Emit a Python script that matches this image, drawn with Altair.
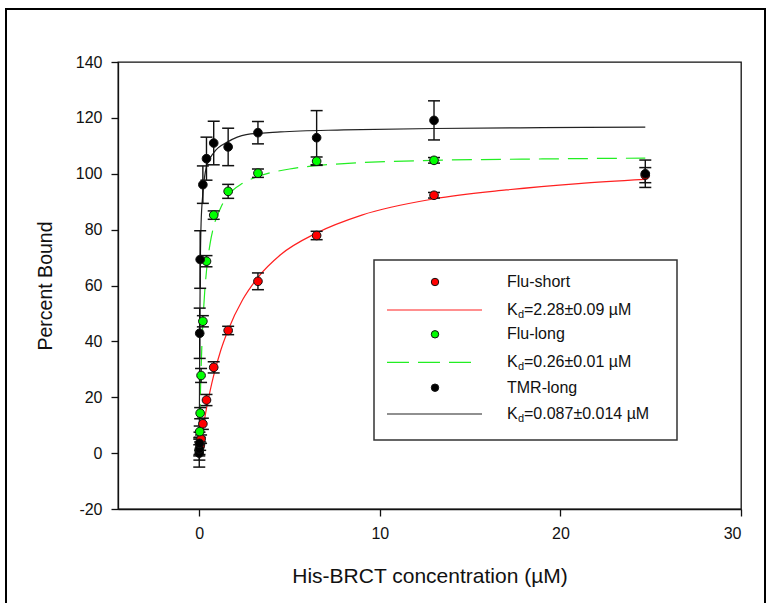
import altair as alt
import pandas as pd

FONT = "Liberation Sans"

# ---- measured data (Percent Bound vs His-BRCT concentration, µM) ----
red_x = [0.05, 0.1, 0.2, 0.4, 0.8, 1.6, 3.25, 6.5, 13, 24.7]
red_y = [2.5, 5, 10.5, 19, 30.7, 43.9, 61.5, 77.9, 92.3, 99.5]
red_err = [1.5, 1.5, 2, 2, 2, 1.5, 3, 1.5, 1, 2.7]

green_x = [0, 0.025, 0.05, 0.1, 0.2, 0.4, 0.8, 1.6, 3.25, 6.5, 13]
green_y = [1, 7.7, 14.3, 27.8, 47.2, 68.7, 85.2, 93.7, 100.2, 104.5, 104.8]
green_err = [2, 2, 2, 2.5, 2, 2, 1.5, 2.5, 1.5, 1.5, 1]

black_x = [0, 0.006, 0.0125, 0.025, 0.05, 0.2, 0.4, 0.8, 1.6, 3.25, 6.5, 13, 24.7]
black_y = [0, 1.5, 3.5, 42.9, 69.3, 96.1, 105.4, 111, 109.6, 114.7, 112.9, 119.1, 100]
black_err = [5, 4, 4, 9, 10.3, 6.7, 7.7, 7.8, 6.7, 4, 9.7, 7, 4.9]

# fitted curves
red_fit_x = [0, 0.1, 0.2, 0.4, 0.6, 0.8, 1.2, 1.6, 2.4, 3.25, 4.5, 6.5, 9, 13, 17, 21, 24.7]
red_fit_y = [0, 4.5, 8.6, 16.0, 22.3, 27.8, 37.0, 44.1, 54.9, 62.9, 71.0, 78.8, 85.2, 91.0, 94.2, 96.5, 98.0]

green_fit_x = [0, 0.025, 0.05, 0.1, 0.15, 0.2, 0.3, 0.4, 0.6, 0.8, 1.2, 1.6, 2.4, 3.25, 5, 6.5, 9, 13, 19, 24.7]
green_fit_y = [0, 9.4, 17.3, 29.9, 39.4, 46.7, 57.6, 65.2, 75.0, 81.1, 88.0, 92.3, 96.6, 99.0, 101.7, 102.9, 104.0, 104.8, 105.3, 105.6]

black_fit_x = [0, 0.0125, 0.025, 0.05, 0.1, 0.2, 0.4, 0.8, 1.6, 2.6, 4.5, 8, 13, 19, 24.7]
black_fit_y = [0, 22, 40, 62, 82, 93, 102.5, 107.5, 111.5, 114, 115, 115.7, 116.2, 116.5, 116.7]

series_names = ["Flu-short", "Flu-long", "TMR-long"]
series_colors = ["#ff0000", "#00ff00", "#000000"]
kd_texts = ["=2.28\u00b10.09 \u00b5M", "=0.26\u00b10.01 \u00b5M", "=0.087\u00b10.014 \u00b5M"]

# ---- tables ----
rows = []
for name, xs, ys, es in zip(series_names, [red_x, green_x, black_x],
                            [red_y, green_y, black_y], [red_err, green_err, black_err]):
    for x, y, e in zip(xs, ys, es):
        rows.append({"series": name, "x": x, "y": y, "lo": y - e, "hi": y + e})
pts = pd.DataFrame(rows)

fits = {
    "Flu-short": pd.DataFrame({"x": red_fit_x, "y": red_fit_y}),
    "Flu-long": pd.DataFrame({"x": green_fit_x, "y": green_fit_y}),
    "TMR-long": pd.DataFrame({"x": black_fit_x, "y": black_fit_y}),
}

W, H = 623, 447
xscale = alt.Scale(domain=[-4.5, 30], nice=False, zero=False)
yscale = alt.Scale(domain=[-20, 140], nice=False, zero=False)

xaxis = alt.Axis(values=[0, 10, 20, 30], title="His-BRCT concentration (\u00b5M)",
                 grid=False, tickSize=7, labelPadding=9, labelFontSize=16,
                 titleFontSize=21, titleFontWeight="normal", titleY=67,
                 titleBaseline="middle", labelFont=FONT, titleFont=FONT,
                 labelColor="#111", titleColor="#111", domainColor="#111",
                 tickColor="#111", domainWidth=1.3, tickWidth=1.3,
                 labelExpr="'' + datum.value")
yaxis = alt.Axis(values=list(range(-20, 141, 20)), title="Percent Bound",
                 grid=False, tickSize=7, labelPadding=9, labelFontSize=16,
                 titleFontSize=19.5, titleFontWeight="normal", titleX=-73,
                 titleY=H / 2, titleAngle=270, titleBaseline="middle", titleAlign="center",
                 labelFont=FONT, titleFont=FONT, labelColor="#111", titleColor="#111",
                 domainColor="#111", tickColor="#111", domainWidth=1.3, tickWidth=1.3,
                 labelExpr="'' + datum.value")

X = alt.X("x:Q", scale=xscale, axis=xaxis)
Y = alt.Y("y:Q", scale=yscale, axis=yaxis)

one = pd.DataFrame({"v": [0]})

# outer frame
frame = alt.Chart(one).mark_rect(fill=None, stroke="#000", strokeWidth=2).encode(
    x=alt.value(-112), x2=alt.value(647), y=alt.value(-53), y2=alt.value(570))

# curves
curve_layers = []
dashes = [None, [20, 9], None]
line_colors = ["#ff2020", "#22ee22", "#222222"]
for name, dash, col in zip(series_names, dashes, line_colors):
    kw = dict(color=col, strokeWidth=1.2, interpolate="monotone")
    if dash:
        kw["strokeDash"] = dash
    curve_layers.append(alt.Chart(fits[name]).mark_line(**kw).encode(x=X, y=Y))

err_rule = alt.Chart(pts).mark_rule(color="#111", strokeWidth=1.4).encode(
    x="x:Q", y="lo:Q", y2="hi:Q")
cap_lo = alt.Chart(pts).mark_tick(color="#111", orient="horizontal", size=12, thickness=1.5,
                                  opacity=1).encode(x="x:Q", y="lo:Q")
cap_hi = alt.Chart(pts).mark_tick(color="#111", orient="horizontal", size=12, thickness=1.5,
                                  opacity=1).encode(x="x:Q", y="hi:Q")

points = alt.Chart(pts).mark_point(filled=True, shape="circle", size=75, stroke="#111",
                                   strokeWidth=1, opacity=1).encode(
    x="x:Q", y="y:Q",
    fill=alt.Fill("series:N", scale=alt.Scale(domain=series_names, range=series_colors), legend=None))

# ---- manual legend (pixel positions relative to plot area) ----
leg = [alt.Chart(one).mark_rect(fill="white", stroke="#333", strokeWidth=1.5).encode(
    x=alt.value(256), x2=alt.value(559), y=alt.value(198), y2=alt.value(378))]
row_y = [220, 272.3, 325.7]
line_y = [248, 300.3, 352]
for i, name in enumerate(series_names):
    leg.append(alt.Chart(one).mark_point(filled=True, shape="circle", size=55, stroke="#111",
                                         strokeWidth=1, fill=series_colors[i], opacity=1).encode(
        x=alt.value(317), y=alt.value(row_y[i])))
    kw = dict(color=line_colors[i], strokeWidth=1.2)
    if dashes[i]:
        kw["strokeDash"] = [22, 9]
    x2 = 355 if dashes[i] else 364
    leg.append(alt.Chart(one).mark_rule(**kw).encode(
        x=alt.value(269), x2=alt.value(x2), y=alt.value(line_y[i])))
    leg.append(alt.Chart(one).mark_text(text=name, align="left", baseline="middle",
                                        fontSize=16, font=FONT, color="#111").encode(
        x=alt.value(389), y=alt.value(row_y[i])))
    leg.append(alt.Chart(one).mark_text(text="K", align="left", baseline="middle",
                                        fontSize=16, font=FONT, color="#111").encode(
        x=alt.value(389), y=alt.value(line_y[i])))
    leg.append(alt.Chart(one).mark_text(text="d", align="left", baseline="middle",
                                        fontSize=11, font=FONT, color="#111").encode(
        x=alt.value(400), y=alt.value(line_y[i] + 5)))
    leg.append(alt.Chart(one).mark_text(text=kd_texts[i], align="left", baseline="middle",
                                        fontSize=16, font=FONT, color="#111").encode(
        x=alt.value(406), y=alt.value(line_y[i])))

base = alt.Chart(pts).mark_point(opacity=0).encode(x=X, y=Y)

chart = alt.layer(frame, base, *curve_layers, err_rule, cap_lo, cap_hi, points, *leg).properties(
    width=W, height=H,
    autosize=alt.AutoSizeParams(type="none"),
    padding={"left": 118, "top": 62, "right": 30, "bottom": 94},
    background="white",
).configure_view(stroke="#111", strokeWidth=1.3)

chart.save("out.html", embed_options={"renderer": "svg", "actions": False})
